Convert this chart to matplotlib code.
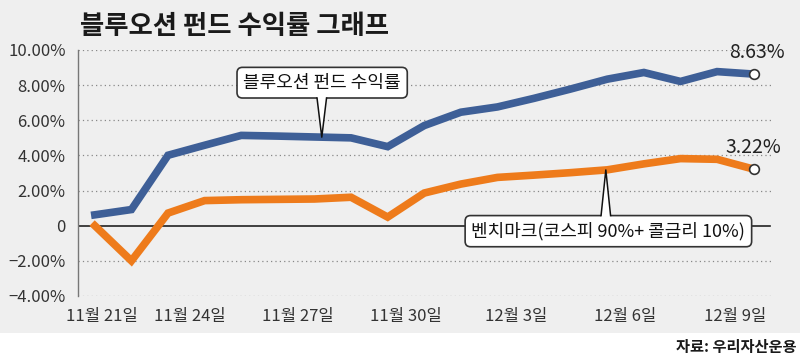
import matplotlib
matplotlib.use("Agg")
import matplotlib.pyplot as plt
from matplotlib.patches import Rectangle, Polygon
import numpy as np

plt.rcParams['font.family'] = ['Noto Sans CJK KR', 'DejaVu Sans']

# data (trading-day index, % return)
fund = [0.62, 0.92, 4.01, 4.58, 5.14, 5.10, 5.05, 5.00, 4.50, 5.70,
        6.46, 6.76, 7.25, 7.78, 8.34, 8.72, 8.21, 8.77, 8.63]
bench = [0.0, -2.0, 0.72, 1.43, 1.48, 1.50, 1.52, 1.62, 0.49, 1.86,
         2.37, 2.75, 2.88, 3.02, 3.18, 3.52, 3.82, 3.78, 3.22]
xlabels = ['11월 21일', '11월 24일', '11월 27일', '11월 30일',
           '12월 3일', '12월 6일', '12월 9일']
xlabel_pos = [0.2, 2.6, 5.55, 8.5, 11.5, 14.5, 17.5]
yticks = [-4, -2, 0, 2, 4, 6, 8, 10]

BLUE = '#3e5f97'
ORANGE = '#ee7b1b'
BG = '#efefef'

W, H = 800, 356
fig = plt.figure(figsize=(W / 100, H / 100), dpi=100)
fig.patch.set_facecolor('white')
fig.patches.append(Rectangle((0, 1 - 333 / H), 1, 333 / H, transform=fig.transFigure,
                             facecolor=BG, edgecolor='none', zorder=-10))

ax = fig.add_axes([78 / W, 1 - 296 / H, (772 - 78) / W, (296 - 50) / H])
ax.set_facecolor('none')
x = np.arange(len(fund))
ax.set_xlim(-0.46, 18.5)
ax.set_ylim(-4, 10)

for s in ['top', 'right', 'bottom']:
    ax.spines[s].set_visible(False)
ax.spines['left'].set_color('#777777')
ax.spines['left'].set_linewidth(1.0)

# gridlines
for v in yticks:
    if v == 0:
        ax.axhline(0, color='#222222', lw=1.2, xmax=(770 - 78) / (772 - 78), zorder=1)
    else:
        ax.axhline(v, color='#888888', lw=0.9, ls=(0, (1, 2.5)), zorder=1)

ax.set_yticks(yticks)
ax.set_yticklabels([('%.2f%%' % v).replace('-', '\u2212') if v != 0 else '0' for v in yticks],
                   fontsize=12, color='#333333')
ax.tick_params(axis='y', length=0, pad=9)

ax.set_xticks(xlabel_pos)
ax.set_xticklabels(xlabels, fontsize=12, color='#333333')
ax.tick_params(axis='x', length=0, pad=9)
ax.set_xticks(xlabel_pos[1:], minor=True)
ax.tick_params(axis='x', which='minor', direction='in', length=4, width=0.9, color='#888888')

ax.plot(x, fund, color=BLUE, lw=5.5, solid_joinstyle='miter', zorder=3)
ax.plot(x, bench, color=ORANGE, lw=5.5, solid_joinstyle='miter', zorder=3)
ax.plot(x[-1], fund[-1], 'o', ms=7, mfc='white', mec='#333333', mew=1.2, zorder=5)
ax.plot(x[-1], bench[-1], 'o', ms=7, mfc='white', mec='#333333', mew=1.2, zorder=5)
ax.annotate('%.2f%%' % fund[-1], (x[-1], fund[-1]), xytext=(2, 8), textcoords='offset points',
            ha='center', va='bottom', fontsize=14, color='#222222')
ax.annotate('%.2f%%' % bench[-1], (x[-1], bench[-1]), xytext=(0, 8), textcoords='offset points',
            ha='center', va='bottom', fontsize=14, color='#222222')

def callout(text, center, tip_x, series, direction):
    t = ax.text(center[0], center[1], text, ha='center', va='center', fontsize=13,
                color='#111111', zorder=6,
                bbox=dict(boxstyle='round,pad=0.35,rounding_size=0.3', fc='white',
                          ec='#333333', lw=1.2))
    fig.canvas.draw()
    bb = t.get_bbox_patch().get_window_extent(renderer=fig.canvas.get_renderer())
    inv = ax.transData.inverted()
    (x0, y0), (x1, y1) = inv.transform([[bb.x0, bb.y0], [bb.x1, bb.y1]])
    tip_y = np.interp(tip_x, x, series)
    half = 0.13
    base = y0 if direction == 'down' else y1
    inset = 0.08 if direction == 'down' else -0.08
    poly = Polygon([[tip_x - half, base + inset], [tip_x, tip_y], [tip_x + half, base + inset]],
                   closed=True, facecolor='white', edgecolor='none', zorder=7)
    ax.add_patch(poly)
    ax.plot([tip_x - half, tip_x, tip_x + half], [base, tip_y, base],
            color='#111111', lw=1.1, zorder=7)

callout('블루오션 펀드 수익률', (6.21, 8.14), 6.2, fund, 'down')
callout('벤치마크(코스피 90%+ 콜금리 10%)', (14.03, -0.31), 13.96, bench, 'up')

fig.text(80 / W, 1 - 26 / H, '블루오션 펀드 수익률 그래프', fontsize=19, fontweight='bold',
         va='center', ha='left', color='#1a1a1a')
fig.text(796 / W, 1 - 347 / H, '자료: 우리자산운용', fontsize=11, fontweight='bold',
         va='center', ha='right', color='#1a1a1a')

fig.savefig('out.png', dpi=100, facecolor=fig.get_facecolor())
